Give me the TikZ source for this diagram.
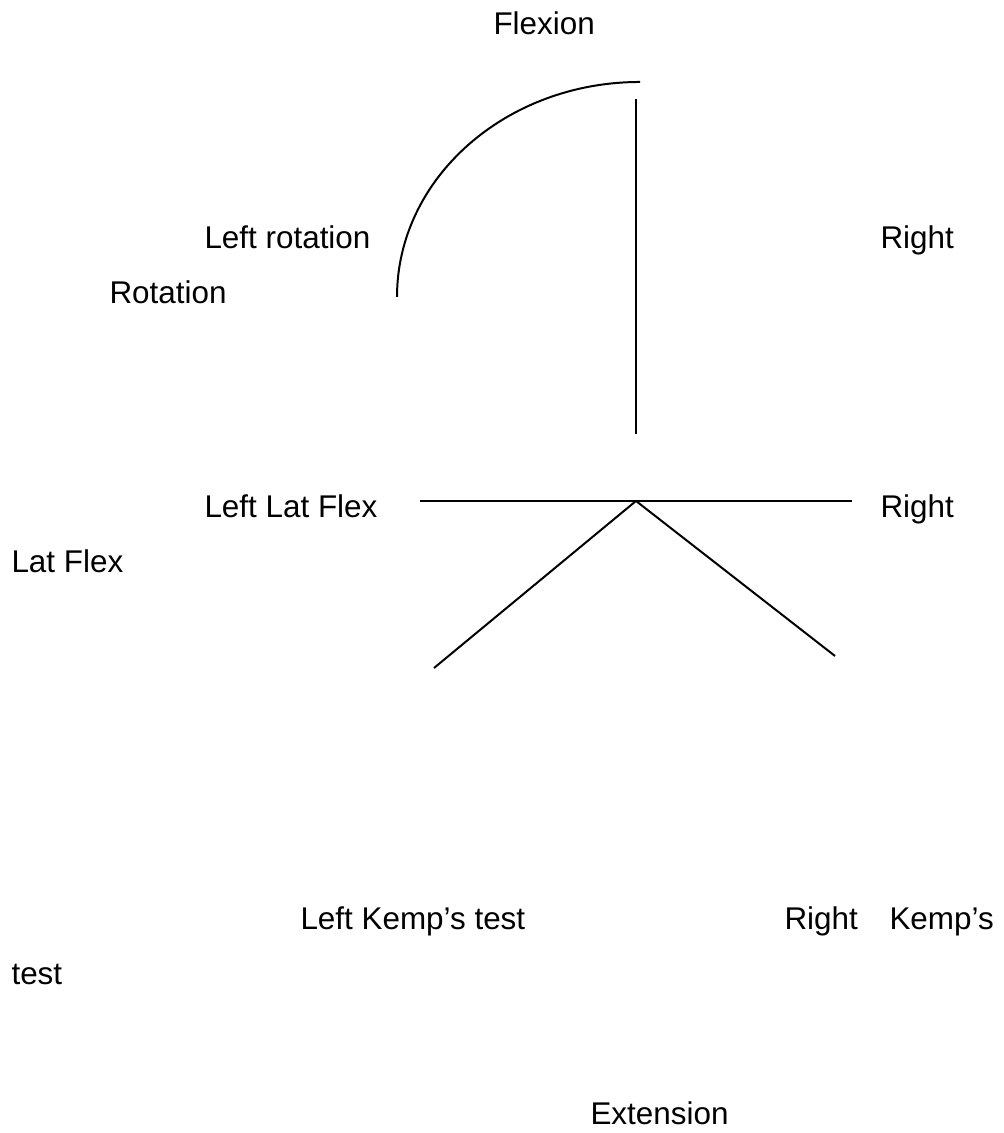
\documentclass[tikz,border=0pt]{standalone}
\usepackage{fontspec}
\setmainfont{Liberation Sans}
\definecolor{romink}{HTML}{000000}

\begin{document}
\begin{tikzpicture}[
  x=0.382pt, y=0.382pt,
  lbl/.style={anchor=base west, inner sep=0pt, text=romink, font=\fontsize{12}{14}\selectfont},
  bar/.style={draw=romink, line width=0.76pt},
]
\useasboundingbox (0,0) rectangle (1003,1133);

% ---- axis coordinates ----
\coordinate (aL)   at (397,836);   % foot of the rotation arc
\coordinate (vTop) at (636,1034);
\coordinate (vBot) at (636,699);
\coordinate (hL)   at (420,632);
\coordinate (hR)   at (852,632);
\coordinate (apex) at (636,632);
\coordinate (kL)   at (434,465);
\coordinate (kR)   at (835,477);

% ---- strokes ----
\draw[bar] (aL) arc[start angle=180, end angle=90, x radius=243, y radius=215];
\draw[bar] (vTop) -- (vBot);
\draw[bar] (hL) -- (hR);
\draw[bar] (apex) -- (kL);
\draw[bar] (apex) -- (kR);

% ---- labels ----
\node[lbl] (flex)   at (493,1098) {Flexion};
\node[lbl] (lrot)   at (204,884)  {Left rotation};
\node[lbl] (rot)    at (109,829)  {Rotation};
\node[lbl] (rrot)   at (880,884)  {Right};
\node[lbl] (llat)   at (204,615)  {Left Lat Flex};
\node[lbl] (rlat)   at (880,615)  {Right};
\node[lbl] (lat)    at (11,560)   {Lat Flex};
\node[lbl] (lkemp)  at (300,203)  {Left Kemp’s test};
\node[lbl] (rkemp)  at (784,203)  {Right};
\node[lbl] (kemp)   at (889,203)  {Kemp’s};
\node[lbl] (ktest)  at (11,148)   {test};
\node[lbl] (ext)    at (590,8)    {Extension};

\end{tikzpicture}
\end{document}
